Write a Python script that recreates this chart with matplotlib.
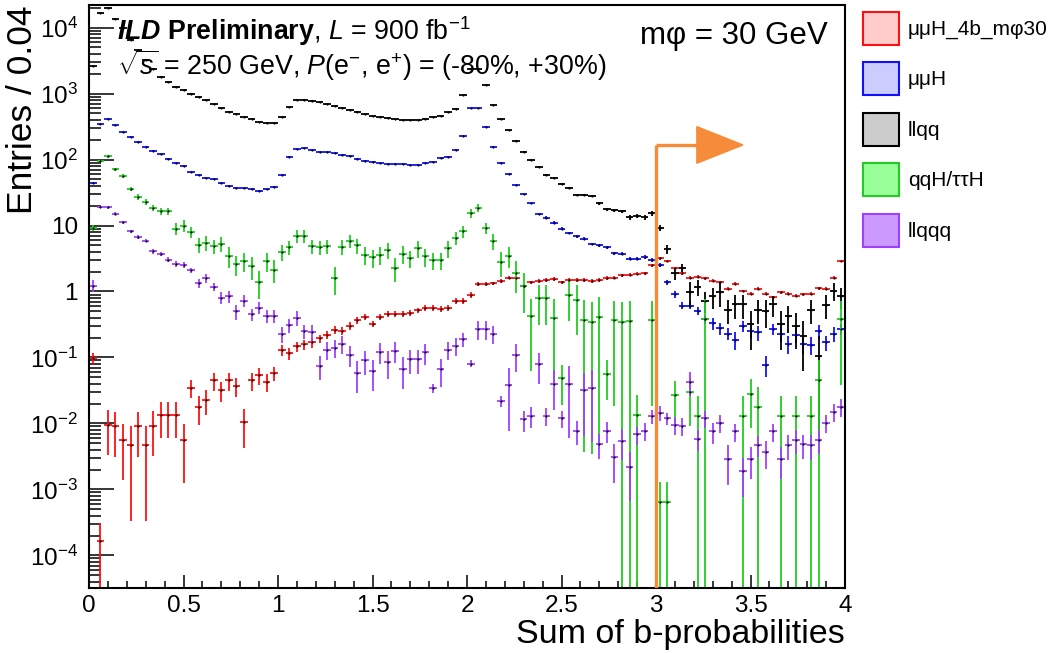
import numpy as np
import matplotlib
matplotlib.use('Agg')
import matplotlib.pyplot as plt
from matplotlib.patches import Patch, Polygon
from matplotlib.ticker import LogLocator, MultipleLocator, FuncFormatter, NullFormatter

plt.rcParams['font.family'] = ['Liberation Sans', 'DejaVu Sans']
plt.rcParams['mathtext.fontset'] = 'custom'
plt.rcParams['mathtext.rm'] = 'Liberation Sans'
plt.rcParams['mathtext.it'] = 'Liberation Sans:italic'
plt.rcParams['mathtext.bf'] = 'Liberation Sans:bold'
plt.rcParams['mathtext.bfit'] = 'Liberation Sans:bold:italic'

#binning: 100 bins of 0.04 from 0 to 4
bin_w = 0.04
edges = np.arange(0, 4 + bin_w / 2, bin_w)
x = edges[:-1] + bin_w / 2

#bin contents (entries / 0.04)
signal = [0.098, 1.65e-4, 0.0096, 0.009, 0.0056, 0.0047, 0.009, 0.0047, 0.0093, 0.0135,
          0.0135, 0.0135, 0.0056, 0.035, 0.018, 0.023, 0.045, 0.032, 0.045, 0.037,
          0.0105, 0.045, 0.054, 0.043, 0.058, 0.13, 0.115, 0.148, 0.158, 0.17,
          0.195, 0.22, 0.26, 0.255, 0.30, 0.37, 0.41, 0.32, 0.41, 0.46,
          0.46, 0.46, 0.47, 0.52, 0.57, 0.57, 0.55, 0.57, 0.72, 0.72,
          0.88, 1.31, 1.31, 1.33, 1.45, 1.63, 1.63, 1.23, 1.37, 1.45,
          1.5, 1.56, 1.37, 1.5, 1.5, 1.5, 1.45, 1.5, 1.6, 1.63,
          1.75, 1.8, 1.85, 1.9, 2.5, 3.2, 2.9, 2.26, 1.9, 1.63,
          1.68, 1.6, 1.45, 1.37, 1.1, 1.31, 1.02, 0.92, 1.1, 0.93,
          0.82, 0.97, 0.92, 0.86, 0.91, 0.92, 1.12, 1.1, 1.63, 2.9]
mumuH = [44.6, 345, 410, 333, 258, 220, 187, 157, 136, 120,
         103, 90, 80, 65, 58, 53, 50, 44, 40, 37,
         36.6, 35.3, 33.2, 35.3, 38.4, 58, 110, 144, 148, 142,
         132, 128, 124, 117, 113, 102, 95, 92, 88, 87,
         86, 86, 83, 83, 88, 92, 104, 110, 140, 230,
         600, 600, 314, 157, 90, 60, 40.5, 30.3, 21.6, 15.1,
         13.1, 11, 8.9, 7.7, 6.9, 6.3, 5.25, 5.0, 4.7, 3.8,
         3.75, 3.14, 3.14, 3.3, 3.0, 2.55, 1.37, 0.91, 0.61, 0.61,
         0.51, 0.38, 0.33, 0.276, 0.23, 0.184, 0.30, 0.25, 0.24, 0.077,
         0.27, 0.23, 0.16, 0.22, 0.16, 0.155, 0.25, 0.17, 0.23, 0.27]
llqq = [2600, 16600, 20000, 13700, 10000, 6600, 4500, 3200, 2400, 1800,
        1520, 1280, 1130, 1000, 880, 800, 690, 600, 530, 490,
        445, 410, 370, 360, 360, 435, 630, 810, 810, 780,
        740, 690, 650, 610, 570, 530, 490, 455, 435, 420,
        410, 400, 400, 400, 410, 435, 455, 520, 590, 950,
        2400, 2400, 1350, 670, 410, 280, 192, 132, 98, 78,
        58, 53, 43, 37.5, 29, 29, 28, 21.6, 17.5, 17,
        16.5, 13.4, 14, 13.4, 15.4, 9.2, 4.4, 1.9, 2.3, 0.98,
        1.16, 0.73, 0.84, 0.98, 0.53, 0.64, 0.64, 0.32, 0.53, 0.51,
        0.64, 0.32, 0.42, 0.30, 0.21, 0.53, 0.107, 0.63, 1.03, 0.84]
qqH = [9.2, 95, 113, 71, 56, 36, 27, 22.6, 18.5, 16.5,
       16.5, 9.0, 10, 8.0, 5.1, 5.5, 4.9, 5.3, 3.5, 2.6,
       2.9, 2.4, 1.4, 2.9, 2.14, 4.0, 4.7, 6.9, 6.9, 4.9,
       4.7, 4.9, 1.6, 4.8, 5.9, 5.0, 3.6, 3.3, 3.6, 4.3,
       2.3, 3.7, 3.2, 4.5, 3.4, 3.0, 3.0, 4.5, 6.5, 8.2,
       15.5, 18.5, 9.2, 5.9, 2.8, 3.5, 1.9, 1.2, 0.42, 0.79,
       0.79, 0.40, 0.048, 0.9, 0.74, 0.37, 0.35, 0.41, 0.057, 0.37,
       0.35, 0.36, 0.0135, 0, 0.37, 0.00065, 0.00065, 0.027, 0, 0.03,
       0.013, 0.38, 0, 0, 0, 0, 0.013, 0.028, 0.018, 0,
       0, 0.013, 0, 0.013, 0, 0.013, 0.045, 0, 0, 0.38]
llqqq = [1.23, 19.2, 18.8, 15.2, 11.2, 8.2, 6.7, 5.9, 4.06, 3.7,
         3.04, 2.6, 2.55, 2.09, 1.34, 1.6, 1.19, 0.81, 0.85, 0.50,
         0.73, 0.45, 0.57, 0.43, 0.43, 0.23, 0.31, 0.40, 0.25, 0.24,
         0.075, 0.13, 0.14, 0.16, 0.11, 0.058, 0.091, 0.062, 0.123, 0.086,
         0.125, 0.067, 0.094, 0.094, 0.12, 0.034, 0.066, 0.13, 0.15, 0.19,
         0.081, 0.27, 0.27, 0.23, 0.022, 0.038, 0.11, 0.0115, 0.013, 0.079,
         0.013, 0.04, 0.012, 0.04, 0.0078, 0.032, 0.035, 0.0049, 0.0078, 0.0031,
         0.0055, 0.0022, 0.0068, 0.0078, 0.013, 0.0145, 0.012, 0.0095, 0.0093, 0.043,
         0.0059, 0.012, 0.0076, 0.0102, 0.0029, 0.0076, 0.0019, 0.0029, 0.0047, 0.0037,
         0.0076, 0.0029, 0.0047, 0.0057, 0.0048, 0.0047, 0.0057, 0.0102, 0.0149, 0.0178]

#relative errors of each bin
signal_rel = ([0.2, 0.9, 0.65, 0.65, 0.75, 0.93, 0.65, 0.93, 0.65, 0.55,
               0.55, 0.55, 0.78, 0.3, 0.47, 0.42, 0.3, 0.35, 0.3, 0.33,
               0.6, 0.3, 0.28, 0.3, 0.25, 0.18, 0.2, 0.17, 0.17, 0.17,
               0.14, 0.14, 0.14, 0.14, 0.14, 0.12]
              + [0.1] * 15 + [0.06] * 20 + [0.05] * 29)
mumuH_rel = ([0.02] * 60 + [0.05] * 13 + [0.07] * 3
             + [0.1, 0.12, 0.12, 0.12, 0.15, 0.15, 0.2, 0.2, 0.2, 0.3,
                0.2, 0.2, 0.25, 0.35, 0.2, 0.25, 0.3, 0.25, 0.3, 0.3,
                0.25, 0.25, 0.25, 0.2])
llqq_rel = ([0.01] * 49 + [0.015] * 11 + [0.04] * 7 + [0.06] * 4 + [0.08] * 4
            + [0.1, 0.15, 0.2, 0.15]
            + [0.4, 0.27, 0.35, 0.35, 0.4, 0.4, 0.4, 0.4, 0.6, 0.4,
               0.45, 0.35, 0.6, 0.45, 0.55, 0.7, 0.4, 0.95, 0.4, 0.3, 0.35])
qqH_rel = [0.11, 0.05, 0.05, 0.06, 0.07, 0.08, 0.1, 0.1, 0.11, 0.12,
           0.12, 0.2, 0.2, 0.2, 0.26, 0.25, 0.25, 0.25, 0.35, 0.35,
           0.33, 0.38, 0.45, 0.33, 0.38, 0.28, 0.25, 0.22, 0.22, 0.25,
           0.25, 0.25, 0.45, 0.25, 0.23, 0.25, 0.3, 0.3, 0.3, 0.28,
           0.4, 0.3, 0.3, 0.28, 0.3, 0.3, 0.3, 0.28, 0.22, 0.2,
           0.15, 0.14, 0.2, 0.27, 0.4, 0.35, 0.5, 0.6, 0.85, 0.6,
           0.6, 0.9, 0.6, 0.6, 0.7, 0.99, 0.99, 0.99, 0.6, 0.95,
           1.0, 1.0, 1.0, 0, 0.95, 1.0, 1.0, 0.65, 0, 0.7,
           1.0, 1.0, 0, 0, 0, 0, 1.0, 0.7, 1.0, 0,
           0, 1.0, 0, 1.0, 0, 1.0, 1.0, 0, 0, 0.9]
llqqq_rel = [0.2, 0.04, 0.04, 0.04, 0.06, 0.06, 0.06, 0.06, 0.08, 0.08,
             0.08, 0.1, 0.1, 0.1, 0.15, 0.15, 0.15, 0.2, 0.2, 0.25,
             0.2, 0.22, 0.2, 0.22, 0.22, 0.28, 0.25, 0.25, 0.25, 0.3,
             0.4, 0.3, 0.3, 0.3, 0.35, 0.5, 0.4, 0.5, 0.35, 0.45,
             0.35, 0.5, 0.4, 0.4, 0.35, 0.15, 0.45, 0.3, 0.3, 0.25,
             0.12, 0.33, 0.33, 0.3, 0.2, 0.8, 0.45, 0.35, 0.35, 0.5,
             0.3, 0.6, 0.3, 0.85, 0.4, 0.8, 0.85, 0.4, 0.35, 0.6,
             0.5, 0.7, 0.3, 0.3, 0.25, 0.25, 0.2, 0.3, 0.3, 0.4,
             0.35, 0.3, 0.35, 0.3, 0.6, 0.3, 0.6, 0.5, 0.35, 0.45,
             0.3, 0.5, 0.4, 0.4, 0.4, 0.4, 0.4, 0.3, 0.3, 0.3]

labels = [u'\u03bc\u03bcH_4b_m\u03c630', u'\u03bc\u03bcH', 'llqq', u'qqH/\u03c4\u03c4H', 'llqqq']
line_colors = ['#ff1010', '#1010ff', '#000000', '#22cc22', '#a040ff']
fill_colors = ['#ffcccc', '#ccccff', '#cccccc', '#99ff99', '#cc99ff']

#cut value
cut = 3.0
orange = '#f68c3a'

ymin, ymax = 3.2e-5, 2.2e4

fig = plt.figure(figsize=(10.51, 6.53), dpi=100)
ax = fig.add_axes([0.0847, 0.0995, 0.7193, 0.8928])
ax.set_yscale('log')

def draw(vals, rel, color):
    y = np.array(vals, dtype=float)
    err = y * np.array(rel, dtype=float)
    m = y > 0
    lo = np.minimum(err, y - 1e-12)
    ax.errorbar(x[m], y[m], xerr=bin_w / 2, yerr=[lo[m], err[m]],
                fmt='o', ms=1.6, mfc='k', mec='k', mew=0,
                ecolor=color, elinewidth=1.3, capsize=0)

draw(signal, signal_rel, line_colors[0])
draw(mumuH, mumuH_rel, line_colors[1])
draw(llqq, llqq_rel, line_colors[2])
draw(qqH, qqH_rel, line_colors[3])
draw(llqqq, llqqq_rel, line_colors[4])

ax.set_xlim(0, 4)
ax.set_ylim(ymin, ymax)

#axis style (ROOT like)
for s in ax.spines.values():
    s.set_linewidth(1.5)
ax.xaxis.set_major_locator(MultipleLocator(0.5))
ax.xaxis.set_minor_locator(MultipleLocator(0.1))
ax.xaxis.set_major_formatter(FuncFormatter(lambda v, p: '%g' % v))
ax.yaxis.set_major_locator(LogLocator(base=10, numticks=20))
ax.yaxis.set_minor_locator(LogLocator(base=10, subs=np.arange(2, 10), numticks=20))
ax.yaxis.set_minor_formatter(NullFormatter())

def ylab(v, p):
    n = int(round(np.log10(v)))
    if n == 0:
        return '1'
    if n == 1:
        return '10'
    return r'$10^{%d}$' % n
ax.yaxis.set_major_formatter(FuncFormatter(ylab))
ax.tick_params(axis='both', which='both', direction='in', top=False, right=False,
               labelsize=17.5, width=1.1)
ax.tick_params(axis='y', which='major', length=18, pad=8)
ax.tick_params(axis='y', which='minor', length=8.5)
ax.tick_params(axis='x', which='major', length=9.5, pad=5)
ax.tick_params(axis='x', which='minor', length=5)

fig.text(0.021, 0.992, 'Entries / 0.04', rotation=90, ha='center', va='top', fontsize=25.5)
fig.text(0.804, 0.0155, 'Sum of b-probabilities', ha='right', va='baseline', fontsize=24.5)

#labels in the pad
fig.text(0.1113, 0.9387, r'$\mathbfit{ILD}\ \mathbf{Preliminary}$, $\mathit{L}$ = 900 fb$^{-1}$',
         fontsize=19.3, va='baseline')
fig.text(0.1113, 0.8852, r'$\sqrt{s}$ = 250 GeV, $\mathit{P}$(e$^{-}$, e$^{+}$) = (-80%, +30%)',
         fontsize=19.3, va='baseline')
fig.text(0.609, 0.932, u'm\u03c6 = 30 GeV', fontsize=22.5, va='baseline')

#cut arrow
top_f = 0.760
head_x0, head_x1, head_h = 0.804, 0.865, 0.0314
tr = ax.get_xaxis_transform()
ax.plot([cut, cut], [0, top_f], color=orange, lw=2.4, transform=tr, solid_capstyle='butt', zorder=5)
ax.plot([cut / 4, head_x0], [top_f, top_f], color=orange, lw=2.4, transform=ax.transAxes,
        solid_capstyle='butt', zorder=5)
ax.add_patch(Polygon([[head_x0, top_f - head_h], [head_x0, top_f + head_h], [head_x1, top_f]],
                     closed=True, facecolor=orange, edgecolor=orange, transform=ax.transAxes,
                     zorder=5, clip_on=False))

#legend
handles = [Patch(facecolor=f, edgecolor=c, linewidth=1.5) for f, c in zip(fill_colors, line_colors)]
fig.legend(handles, labels, loc='upper left', bbox_to_anchor=(0.821, 0.982), frameon=False,
           fontsize=15, handlelength=1.75, handleheight=2.05, labelspacing=0.85,
           handletextpad=0.4, borderpad=0, borderaxespad=0)

fig.savefig('out.png', dpi=100)
